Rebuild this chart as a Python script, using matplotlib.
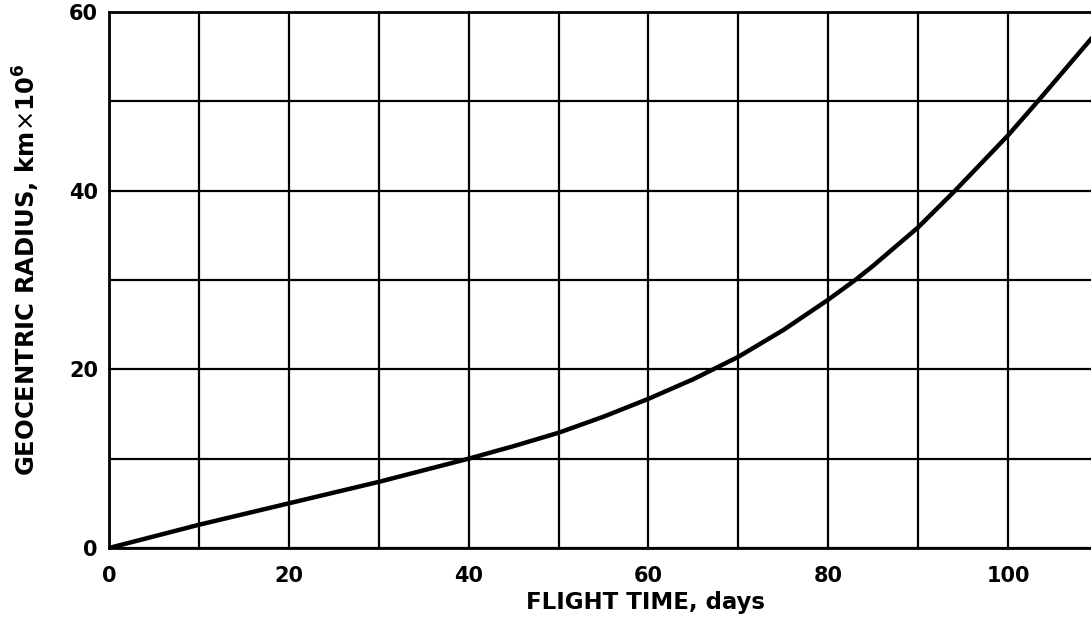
import matplotlib
matplotlib.use("Agg")
import matplotlib.pyplot as plt

# Data
flight_time_days = [0, 5, 10, 15, 20, 25, 30, 35, 40, 45, 50, 55, 60, 65, 67.2, 70, 75, 80, 83, 85, 90, 94.1, 100, 103.3, 110]
radius_km_e6 = [0, 1.3, 2.6, 3.8, 5.0, 6.2, 7.4, 8.7, 10.0, 11.4, 12.9, 14.7, 16.7, 18.9, 20.0, 21.4, 24.4, 27.8, 30.0, 31.6, 35.9, 40.0, 46.2, 50.0, 57.9]

x_ticks = [0, 20, 40, 60, 80, 100]
y_ticks = [0, 20, 40, 60]
x_grid = list(range(0, 111, 10))
y_grid = list(range(0, 61, 10))

plt.rcParams['font.family'] = ['DejaVu Sans']

W, H = 1091, 618
fig = plt.figure(figsize=(W / 100, H / 100), dpi=100)
left_px, right_px, top_px, bottom_px = 109, 1098, 12, 548
ax = fig.add_axes([left_px / W, (H - bottom_px) / H, (right_px - left_px) / W, (bottom_px - top_px) / H])

ax.set_xlim(0, 110)
ax.set_ylim(0, 60)

for xv in x_grid:
    ax.axvline(xv, color='black', lw=1.6, zorder=1)
for yv in y_grid:
    ax.axhline(yv, color='black', lw=1.6, zorder=1)

ax.plot(flight_time_days, radius_km_e6, color='black', lw=3.2, solid_capstyle='round',
        solid_joinstyle='round', zorder=3)

for s in ax.spines.values():
    s.set_linewidth(2.0)
    s.set_color('black')

ax.set_xticks(x_ticks)
ax.set_yticks(y_ticks)
ax.set_xticklabels([str(v) for v in x_ticks], fontweight='bold')
ax.set_yticklabels([str(v) for v in y_ticks], fontweight='bold')
ax.tick_params(axis='both', length=0, labelsize=15)
ax.tick_params(axis='x', pad=13)
ax.tick_params(axis='y', pad=8)

fig.text(645 / W, 1 - 603 / H, "FLIGHT TIME, days", ha='center', va='center', fontsize=16.5,
         fontweight='bold')
fig.text(26 / W, 1 - 270 / H, r"GEOCENTRIC RADIUS, km$\times$10$^{\mathbf{6}}$", ha='center', va='center',
         rotation=90, fontsize=17.5, fontweight='bold')

fig.savefig("out.png", dpi=100)
